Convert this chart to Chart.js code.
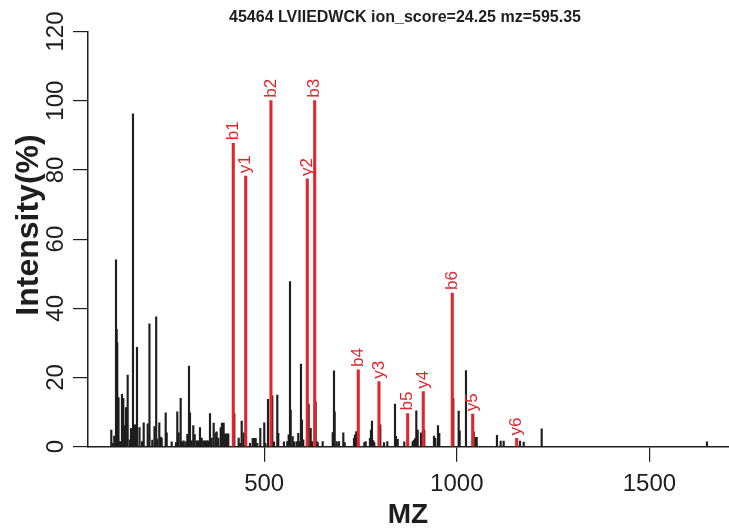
<!DOCTYPE html>
<html><head><meta charset="utf-8">
<script src="https://cdn.jsdelivr.net/npm/chart.js@4.4.1/dist/chart.umd.min.js"></script>
<style>html,body{margin:0;padding:0;background:#fff}canvas{display:block}</style>
</head><body>
<canvas id="c" width="729" height="530"></canvas>
<script>
const chartTitle = '45464 LVIIEDWCK ion_score=24.25 mz=595.35';
const xTitle = 'MZ';
const yTitle = 'Intensity(%)';
const xTicks = [500, 1000, 1500];
const yTicks = [0, 20, 40, 60, 80, 100, 120];

const peakMz = [103.1,106.7,110.8,115.3,117.1,118.6,121.8,125.6,130.8,134.2,137.6,141.2,145.6,151.6,154.2,159.4,162.8,166.4,169.8,176.3,182.8,187.2,197.6,202.2,209.5,215.2,219.6,222.5,227.7,231.3,233.9,244.3,246.9,259.9,271.0,274.4,278.0,283.2,286.6,291.0,296.2,300.4,304.8,307.4,311.8,315.9,319.6,324.8,328.1,333.3,337.7,341.9,346.3,350.7,354.1,359.3,363.7,368.9,374.1,376.7,380.8,387.1,390.4,394.8,398.2,403.4,406.8,422.4,433.8,437.2,441.6,446.8,463.1,470.1,474.3,477.9,482.1,489.9,500.2,502.9,509.9,521.0,525.4,534.0,536.6,551.4,560.0,563.6,567.0,568.8,574.0,578.1,584.4,588.5,591.1,595.5,598.1,601.5,615.5,620.7,624.1,633.5,636.3,638.9,651.9,677.9,681.2,683.0,688.2,694.2,705.4,709.0,733.1,735.7,739.1,760.0,763.4,774.6,777.2,779.8,783.2,785.8,801.4,811.0,819.6,839.6,842.2,846.6,863.7,885.5,888.9,892.3,894.9,898.5,907.1,915.6,940.8,944.2,951.2,954.6,990.9,1004.9,1007.5,1023.9,1043.9,1049.1,1051.7,1104.3,1113.9,1121.7,1164.1,1173.7,1220.4,1649.5];
const peakInt = [4.8,1.0,3.1,54.0,33.9,30.0,14.2,1.5,15.1,14.0,6.1,11.3,20.7,2.0,5.3,96.2,6.3,6.3,28.7,5.5,1.5,6.9,6.6,35.5,1.9,5.8,37.5,2.2,6.9,2.8,2.5,9.8,4.0,1.4,1.2,10.1,4.0,14.0,1.4,1.7,1.4,3.6,23.3,9.8,1.7,6.1,3.5,1.7,1.7,5.5,2.5,1.7,1.7,1.7,1.7,9.6,2.5,6.8,4.0,4.3,2.5,5.5,6.8,6.8,3.7,3.7,3.7,9.6,2.5,1.0,7.4,4.0,1.0,2.4,2.4,2.4,1.0,5.3,6.9,1.0,13.7,14.7,1.4,14.9,3.9,1.4,1.5,3.4,47.7,10.6,2.9,1.4,1.5,3.9,1.5,23.9,7.7,2.0,12.3,5.3,1.5,13.0,1.5,1.2,1.5,4.1,21.9,10.1,1.5,1.5,4.0,1.2,2.4,3.4,4.4,1.2,1.5,2.4,4.8,7.4,1.8,1.2,6.3,1.2,1.5,12.3,3.0,2.1,1.4,1.5,1.9,2.4,10.4,4.8,4.0,4.8,3.1,2.4,6.1,3.9,14.0,10.3,4.6,22.0,4.3,2.7,2.7,3.3,1.6,1.6,1.6,1.3,5.2,1.4];

const ionLabels = ['b1','y1','b2','y2','b3','b4','y3','b5','y4','b6','y5','y6'];
const ionMz = [419.8,452.0,517.6,611.9,631.1,744.3,798.0,872.5,913.0,988.3,1041.3,1155.5];
const ionInt = [87.7,78.2,100,77.4,100,22.2,18.8,9.6,15.9,44.4,9.4,2.4];

const FONT = '"Liberation Sans", Arial, Helvetica, sans-serif';
const RED = '#e3242b';
const INK = '#1e1e1e';

const textPlugin = {
  id: 'texts',
  afterDraw(chart) {
    const { ctx, chartArea: ca, scales: { x, y } } = chart;
    ctx.save();
    ctx.fillStyle = INK;
    ctx.textAlign = 'center';
    ctx.textBaseline = 'middle';
    ctx.font = 'bold 16px ' + FONT;
    ctx.fillText(chartTitle, 405, 18);
    ctx.font = '24px ' + FONT;
    xTicks.forEach(v => ctx.fillText(String(v), x.getPixelForValue(v), 484));
    ctx.font = 'bold 28px ' + FONT;
    ctx.fillText(xTitle, 408, 515);
    ctx.font = '24px ' + FONT;
    yTicks.forEach(v => {
      ctx.save();
      ctx.translate(56, y.getPixelForValue(v));
      ctx.rotate(-Math.PI / 2);
      ctx.fillText(String(v), 0, 0);
      ctx.restore();
    });
    ctx.save();
    ctx.font = 'bold 32px ' + FONT;
    ctx.translate(29, 225);
    ctx.rotate(-Math.PI / 2);
    ctx.fillText(yTitle, 0, 0);
    ctx.restore();
    const meta = chart.getDatasetMeta(1);
    ctx.fillStyle = RED;
    ctx.font = '17px ' + FONT;
    ctx.textAlign = 'left';
    meta.data.forEach((el, i) => {
      ctx.save();
      ctx.translate(el.x, el.y - 3);
      ctx.rotate(-Math.PI / 2);
      ctx.fillText(ionLabels[i], 0, 0);
      ctx.restore();
    });
    ctx.restore();
  }
};

new Chart(document.getElementById('c'), {
  type: 'bar',
  data: {
    datasets: [
      { data: peakMz.map((m, i) => ({ x: m, y: peakInt[i] })), backgroundColor: INK, barThickness: 1.5, grouped: false, order: 2 },
      { data: ionMz.map((m, i) => ({ x: m, y: ionInt[i] })), backgroundColor: RED, barThickness: 2.4, grouped: false, order: 1 }
    ]
  },
  options: {
    responsive: false,
    animation: false,
    devicePixelRatio: 1,
    layout: { padding: { top: 31.5, left: 0, right: 0, bottom: 0 } },
    plugins: { legend: { display: false }, tooltip: { enabled: false }, title: { display: false } },
    scales: {
      x: {
        type: 'linear',
        offset: false,
        min: 42.6, max: 1706.7,
        afterBuildTicks: s => { s.ticks = xTicks.map(v => ({ value: v })); },
        afterFit: s => { s.height = 530 - 446.7; },
        ticks: { display: false },
        grid: { offset: false, drawOnChartArea: false, drawTicks: true, tickLength: 15, color: INK, lineWidth: 1.2 },
        border: { display: true, color: INK, width: 1.5 }
      },
      y: {
        min: 0, max: 120,
        afterBuildTicks: s => { s.ticks = yTicks.map(v => ({ value: v })); },
        afterFit: s => { s.width = 88; },
        ticks: { display: false },
        grid: { drawOnChartArea: false, drawTicks: true, tickLength: 15, color: INK, lineWidth: 1.2 },
        border: { display: true, color: INK, width: 1.5 }
      }
    }
  },
  plugins: [textPlugin]
});
</script>
</body></html>
